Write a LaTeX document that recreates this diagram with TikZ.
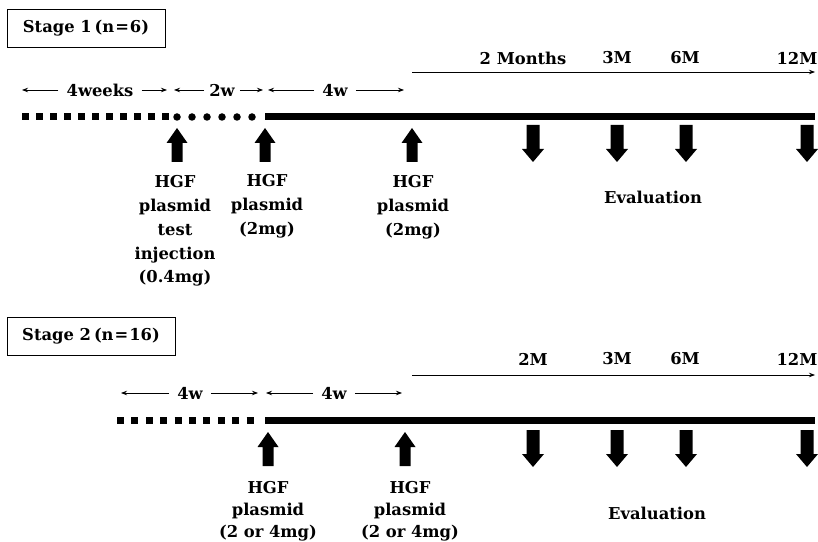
\documentclass[tikz,border=0pt]{standalone}
\usepackage{fontspec}
\setmainfont{DejaVu Serif}
\usetikzlibrary{arrows.meta}
\begin{document}
\begin{tikzpicture}[x=1bp,y=-1bp,
  txt/.style={font=\fontsize{16.4}{24}\selectfont\bfseries},
  lbl/.style={txt, align=center, inner sep=0pt, anchor=north},
  dimlbl/.style={txt, inner xsep=8bp, inner ysep=2bp},
  dimarr/.style={line width=0.8bp, -{Stealth[length=6bp,width=4.5bp]}},
  stagebox/.style={txt, draw, line width=0.8bp, minimum height=38bp, inner sep=0pt},
  sqline/.style={line width=7bp, dash pattern=on 7bp off 7bp},
  dotline/.style={line width=7.5bp, line cap=round, dash pattern=on 0bp off 15bp},
  solidline/.style={line width=7bp},
  uparrow/.pic={\fill (0,0) -- (10.5,15) -- (5.5,15) -- (5.5,34) -- (-5.5,34) -- (-5.5,15) -- (-10.5,15) -- cycle;},
  downarrow/.pic={\fill (-6.5,0) -- (6.5,0) -- (6.5,24) -- (11,24) -- (0,37) -- (-11,24) -- (-6.5,24) -- cycle;}
]
\useasboundingbox[fill=white] (0,0) rectangle (818,542);

% ---------------- Stage 1 ----------------
\node[stagebox, minimum width=158bp] (s1) at (86,28.5) {Stage 1\hspace{3pt}(n\hspace{1pt}=\hspace{1pt}6)};

% top month axis
\coordinate (t1a) at (412,72);
\coordinate (t1b) at (815,72);
\draw[dimarr] (t1a) -- (t1b);
\node[txt] (m1a) at (523,58) {2 Months};
\node[txt] (m1b) at (617,58) {3M};
\node[txt] (m1c) at (685,58) {6M};
\node[txt] (m1d) at (797,58) {12M};

% dimension row
\node[dimlbl] (d1a) at (100,90) {4weeks};
\coordinate (d1al) at (22,90); \coordinate (d1ar) at (167,90);
\draw[dimarr] (d1a) -- (d1al); \draw[dimarr] (d1a) -- (d1ar);
\node[dimlbl, inner xsep=5bp] (d1b) at (222,90) {2w};
\coordinate (d1bl) at (174,90); \coordinate (d1br) at (263,90);
\draw[dimarr] (d1b) -- (d1bl); \draw[dimarr] (d1b) -- (d1br);
\node[dimlbl] (d1c) at (335,90) {4w};
\coordinate (d1cl) at (268,90); \coordinate (d1cr) at (404,90);
\draw[dimarr] (d1c) -- (d1cl); \draw[dimarr] (d1c) -- (d1cr);

% timeline
\coordinate (L1a) at (22,117); \coordinate (L1b) at (169,117);
\coordinate (L1c) at (177,117); \coordinate (L1d) at (253,117);
\coordinate (L1e) at (265,117); \coordinate (L1f) at (815,117);
\draw[sqline] (L1a) -- (L1b);
\draw[dotline] (L1c) -- (L1d);
\draw[solidline] (L1e) -- (L1f);

% injections
\pic at (177,128) {uparrow};
\pic at (265,128) {uparrow};
\pic at (412,128) {uparrow};
\node[lbl] (h1a) at (175,175) {HGF\\plasmid\\test\\injection\\(0.4mg)};
\node[lbl] (h1b) at (267,174) {HGF\\plasmid\\(2mg)};
\node[lbl] (h1c) at (413,175) {HGF\\plasmid\\(2mg)};

% evaluations
\pic at (533,125) {downarrow};
\pic at (617,125) {downarrow};
\pic at (686,125) {downarrow};
\pic at (807,125) {downarrow};
\node[txt] (e1) at (653,197) {Evaluation};

% ---------------- Stage 2 ----------------
\node[stagebox, minimum width=168bp] (s2) at (91,336) {Stage 2\hspace{3pt}(n\hspace{1pt}=\hspace{1pt}16)};

\coordinate (t2a) at (412,375);
\coordinate (t2b) at (815,375);
\draw[dimarr] (t2a) -- (t2b);
\node[txt] (m2a) at (533,359) {2M};
\node[txt] (m2b) at (617,359) {3M};
\node[txt] (m2c) at (685,359) {6M};
\node[txt] (m2d) at (797,359) {12M};

\node[dimlbl] (d2a) at (190,393) {4w};
\coordinate (d2al) at (121,393); \coordinate (d2ar) at (258,393);
\draw[dimarr] (d2a) -- (d2al); \draw[dimarr] (d2a) -- (d2ar);
\node[dimlbl] (d2b) at (334,393) {4w};
\coordinate (d2bl) at (266,393); \coordinate (d2br) at (402,393);
\draw[dimarr] (d2b) -- (d2bl); \draw[dimarr] (d2b) -- (d2br);

\coordinate (L2a) at (117,420); \coordinate (L2b) at (256,420);
\coordinate (L2e) at (265,420); \coordinate (L2f) at (815,420);
\draw[sqline, dash pattern=on 7bp off 7.4bp] (L2a) -- (L2b);
\draw[solidline] (L2e) -- (L2f);

\pic at (268,432) {uparrow};
\pic at (405,432) {uparrow};
\node[lbl, font=\fontsize{16.4}{22}\selectfont\bfseries] (h2a) at (268,481) {HGF\\plasmid\\(2 or 4mg)};
\node[lbl, font=\fontsize{16.4}{22}\selectfont\bfseries] (h2b) at (410,481) {HGF\\plasmid\\(2 or 4mg)};

\pic at (533,430) {downarrow};
\pic at (617,430) {downarrow};
\pic at (686,430) {downarrow};
\pic at (807,430) {downarrow};
\node[txt] (e2) at (657,513) {Evaluation};
\end{tikzpicture}
\end{document}
